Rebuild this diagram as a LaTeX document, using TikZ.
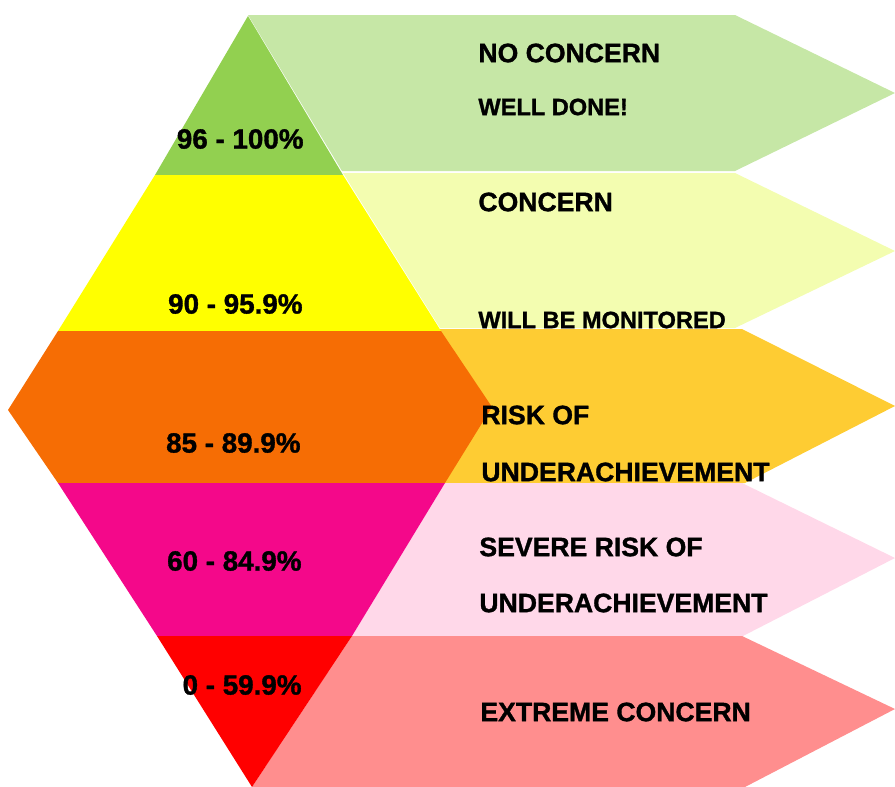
\documentclass[tikz,border=0pt]{standalone}
\usepackage{fontspec}
\setmainfont{Liberation Sans}[BoldFeatures={FakeBold=1.2}]
\usepackage{xcolor}
\usepackage{tikz}
\usetikzlibrary{positioning}
\definecolor{bandgreen}{RGB}{146, 208, 80}
\definecolor{bandyellow}{RGB}{255, 255, 0}
\definecolor{bandorange}{RGB}{246, 109, 4}
\definecolor{bandpink}{RGB}{244, 8, 138}
\definecolor{bandred}{RGB}{255, 0, 0}
\definecolor{arrowgreen}{RGB}{198, 231, 166}
\definecolor{arrowyellow}{RGB}{243, 253, 176}
\definecolor{arrowamber}{RGB}{254, 204, 51}
\definecolor{arrowpink}{RGB}{255, 216, 233}
\definecolor{arrowsalmon}{RGB}{255, 142, 142}
\tikzset{
    rangetext/.style={anchor=east, inner sep=0pt, font=\fontsize{13.9}{16}\selectfont\bfseries},
    verdicttext/.style={anchor=west, inner sep=0pt, font=\fontsize{13.3}{16}\selectfont\bfseries},
    notetext/.style={anchor=west, inner sep=0pt, font=\fontsize{11.8}{14}\selectfont\bfseries}
}

\begin{document}
\begin{tikzpicture}[x=0.5pt, y=-0.5pt]
        \useasboundingbox (0, 0) rectangle (895, 787);

        % Verdict arrows
        \fill[arrowgreen] (248, 15) -- (735, 15) -- (895, 93) -- (735, 171) -- (342, 171) -- cycle;
        \fill[arrowyellow] (343, 173) -- (735, 173) -- (895, 251) -- (735, 328) -- (440, 328) -- cycle;
        \fill[arrowamber] (440, 329) -- (742, 329) -- (895, 406) -- (745, 483) -- (445, 483) -- cycle;
        \fill[arrowpink] (445, 483) -- (742, 483) -- (895, 558) -- (743, 636) -- (352, 636) -- cycle;
        \fill[arrowsalmon] (352, 636) -- (742, 636) -- (895, 709) -- (745, 787) -- (252, 787) -- cycle;

        % Score bands
        \fill[bandgreen] (248, 16) -- (343, 175) -- (155, 175) -- cycle;
        \fill[bandyellow] (155, 175) -- (343, 175) -- (441, 331) -- (58, 331) -- cycle;
        \fill[bandorange] (58, 331) -- (441, 331) -- (492, 407) -- (445, 483) -- (58, 483) -- (8, 410) -- cycle;
        \fill[bandpink] (58, 483) -- (445, 483) -- (352, 636) -- (157, 636) -- cycle;
        \fill[bandred] (157, 636) -- (352, 636) -- (252, 787) -- cycle;

        % Score ranges
        \node[rangetext] (range1) at (304, 139) {96 - 100\%};
        \node[rangetext] (range2) at (303, 304) {90 - 95.9\%};
        \node[rangetext] (range3) at (301, 443) {85 - 89.9\%};
        \node[rangetext] (range4) at (302, 561) {60 - 84.9\%};
        \node[rangetext] (range5) at (302, 685) {0 - 59.9\%};

        % Verdicts
        \node[verdicttext] (noconcern) at (478, 53) {NO CONCERN};
        \node[notetext] (welldone) at (478, 107) {WELL DONE!};
        \node[verdicttext] (concern) at (478, 202) {CONCERN};
        \node[notetext] (monitored) at (478, 320) {WILL BE MONITORED};
        \node[verdicttext] (riskof) at (481, 415) {RISK OF};
        \node[verdicttext] (under1) at (481, 472) {UNDERACHIEVEMENT};
        \node[verdicttext] (severe) at (479, 547) {SEVERE RISK OF};
        \node[verdicttext] (under2) at (479, 603) {UNDERACHIEVEMENT};
        \node[verdicttext] (extreme) at (480, 712) {EXTREME CONCERN};

    \end{tikzpicture}
\end{document}
